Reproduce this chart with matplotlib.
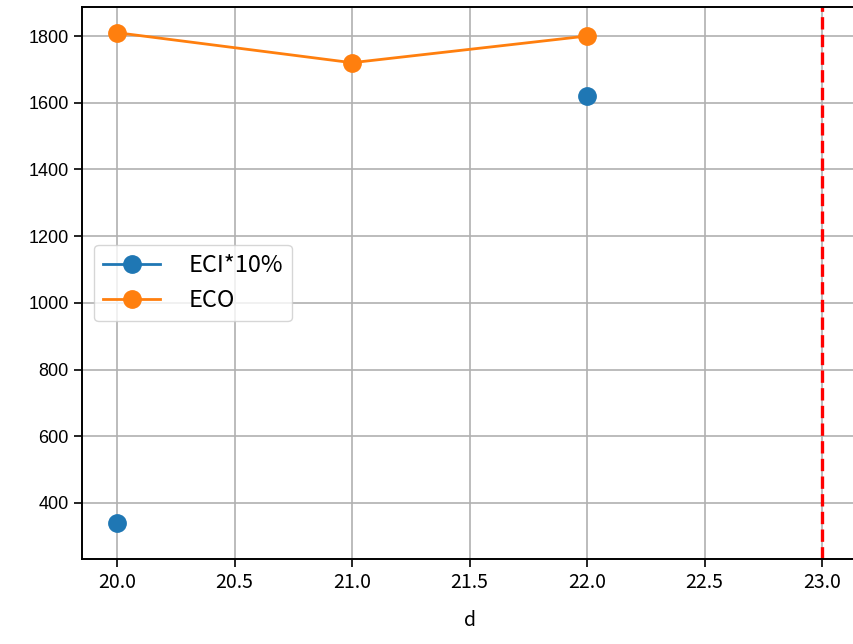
import numpy as np
import matplotlib; matplotlib.use('Agg')
import matplotlib.pyplot as plt

plt.rcParams['font.family'] = ['Noto Sans CJK SC', 'DejaVu Sans']
plt.rcParams['axes.unicode_minus'] = False

# --- Donnees ---
d = [20, 21, 22]
eci_10 = [340, np.nan, 1620]
eco = [1810, 1720, 1800]
d_limite = 23
x_ticks = [20.0, 20.5, 21.0, 21.5, 22.0, 22.5, 23.0]
y_ticks = [400, 600, 800, 1000, 1200, 1400, 1600, 1800]

fig = plt.figure(figsize=(8.54, 6.44), dpi=100)
# axes plus large que la figure : le bord droit est coupe comme sur l'original
W = 800
ax = fig.add_axes([82/854, 85/644, W/854, 552/644])

ax.plot(d, eci_10, '-o', color='#1f77b4', lw=2.0, ms=12.5, label='ECI*10%')
ax.plot(d, eco, '-o', color='#ff7f0e', lw=2.0, ms=12.5, label='ECO')
ax.axvline(d_limite, color='red', ls='--', lw=2.4)

ax.set_xlim(19.851, 19.851 + W/235)
ax.set_ylim(232, 1887)
ax.set_yticks(y_ticks)
ax.set_xticks(x_ticks)
ax.grid(True, color='#b0b0b0', lw=1.2)
ax.set_xlabel('d', fontsize=14)
ax.xaxis.set_label_coords((470 - 82) / W, -0.093)
ax.tick_params(axis='x', labelsize=14, length=6, width=1.2)
ax.tick_params(axis='y', labelsize=13, length=6, width=1.2)
for s in ax.spines.values():
    s.set_linewidth(1.4)
ax.spines['right'].set_visible(False)
plt.setp(ax.get_yticklabels(), family='Liberation Sans', fontsize=13)

ax.legend(loc='center left', fontsize=17, handlelength=2.4, handletextpad=1.2,
          borderaxespad=0.5, framealpha=0.8)

plt.savefig('out.png', dpi=100)
